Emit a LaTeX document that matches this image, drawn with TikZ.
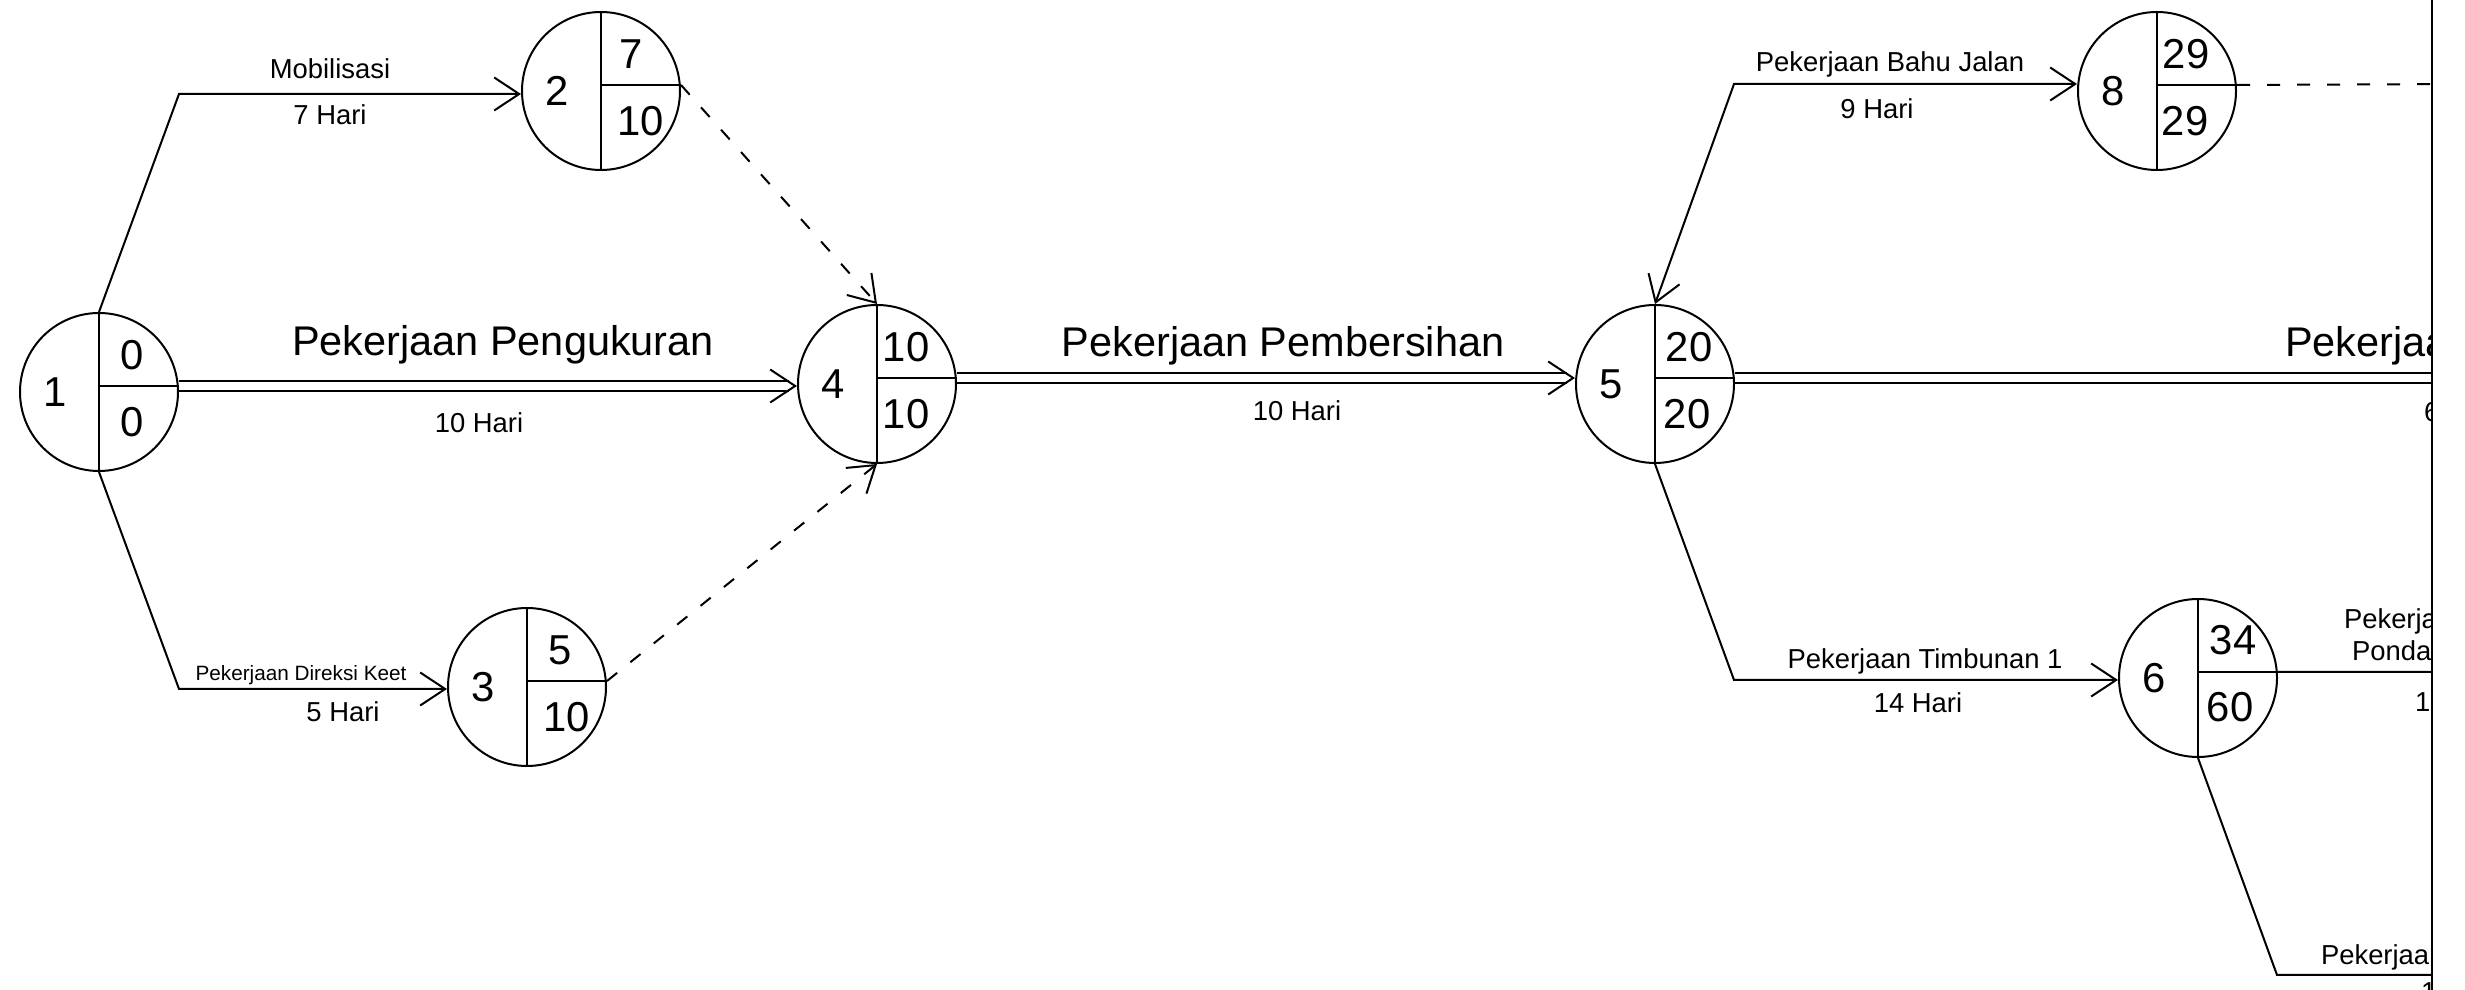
\documentclass[tikz,border=0pt]{standalone}
\usepackage{fontspec}
\setmainfont{Liberation Sans}
\usetikzlibrary{arrows.meta,positioning,calc}

\tikzset{
  event/.style={circle,draw,minimum size=15.8mm,inner sep=0pt},
  evnum/.style={font=\fontsize{11.9}{14}\selectfont,inner sep=0pt},
  biglbl/.style={font=\fontsize{11.8}{14}\selectfont,inner sep=0pt},
  lbl/.style={font=\fontsize{7.8}{9}\selectfont,inner sep=0pt},
  tinylbl/.style={font=\fontsize{5.9}{7}\selectfont,inner sep=0pt},
  arr/.style={->},
  arrboth/.style={<->},
  dline/.style={double,double distance=0.8mm},
  dashline/.style={dash pattern=on 1.3mm off 1.7mm},
}

\begin{document}
\begin{tikzpicture}[x=0.1mm,y=-0.1mm,line width=0.2mm,>={Straight Barb[length=2.5mm,width=3.3mm]}]
\useasboundingbox (0,0) rectangle (2465,990);
\begin{scope}
	\clip (0,0) rectangle (2432,990);

	% event 1
	\node[event] (n1) at (99,392) {};
	\draw (n1.north) -- (n1.south);
	\draw ([yshift=0.6mm]n1.center) -- ([yshift=0.6mm]n1.east);
	\node[evnum] (n1k) at ([xshift=-4.4mm]n1.center) {1};
	\node[evnum] (n1e) at ([xshift=3.3mm,yshift=3.7mm]n1.center) {0};
	\node[evnum] (n1l) at ([xshift=3.3mm,yshift=-3.0mm]n1.center) {0};

	% event 2
	\node[event] (n2) at (601,91) {};
	\draw (n2.north) -- (n2.south);
	\draw ([yshift=0.6mm]n2.center) -- ([yshift=0.6mm]n2.east);
	\node[evnum] (n2k) at ([xshift=-4.4mm]n2.center) {2};
	\node[evnum] (n2e) at ([xshift=3.0mm,yshift=3.7mm]n2.center) {7};
	\node[evnum] (n2l) at ([xshift=4.0mm,yshift=-3.0mm]n2.center) {10};

	% event 3
	\node[event] (n3) at (527,687) {};
	\draw (n3.north) -- (n3.south);
	\draw ([yshift=0.6mm]n3.center) -- ([yshift=0.6mm]n3.east);
	\node[evnum] (n3k) at ([xshift=-4.4mm]n3.center) {3};
	\node[evnum] (n3e) at ([xshift=3.3mm,yshift=3.7mm]n3.center) {5};
	\node[evnum] (n3l) at ([xshift=4.0mm,yshift=-3.0mm]n3.center) {10};

	% event 4
	\node[event] (n4) at (877,384) {};
	\draw (n4.north) -- (n4.south);
	\draw ([yshift=0.6mm]n4.center) -- ([yshift=0.6mm]n4.east);
	\node[evnum] (n4k) at ([xshift=-4.4mm]n4.center) {4};
	\node[evnum] (n4e) at ([xshift=2.9mm,yshift=3.7mm]n4.center) {10};
	\node[evnum] (n4l) at ([xshift=2.9mm,yshift=-3.0mm]n4.center) {10};

	% event 5
	\node[event] (n5) at (1655,384) {};
	\draw (n5.north) -- (n5.south);
	\draw ([yshift=0.6mm]n5.center) -- ([yshift=0.6mm]n5.east);
	\node[evnum] (n5k) at ([xshift=-4.4mm]n5.center) {5};
	\node[evnum] (n5e) at ([xshift=3.4mm,yshift=3.7mm]n5.center) {20};
	\node[evnum] (n5l) at ([xshift=3.2mm,yshift=-3.0mm]n5.center) {20};

	% event 8
	\node[event] (n8) at (2157,91) {};
	\draw (n8.north) -- (n8.south);
	\draw ([yshift=0.6mm]n8.center) -- ([yshift=0.6mm]n8.east);
	\node[evnum] (n8k) at ([xshift=-4.4mm]n8.center) {8};
	\node[evnum] (n8e) at ([xshift=2.9mm,yshift=3.7mm]n8.center) {29};
	\node[evnum] (n8l) at ([xshift=2.8mm,yshift=-3.0mm]n8.center) {29};

	% event 6
	\node[event] (n6) at (2198,678) {};
	\draw (n6.north) -- (n6.south);
	\draw ([yshift=0.6mm]n6.center) -- ([yshift=0.6mm]n6.east);
	\node[evnum] (n6k) at ([xshift=-4.4mm]n6.center) {6};
	\node[evnum] (n6e) at ([xshift=3.5mm,yshift=3.8mm]n6.center) {34};
	\node[evnum] (n6l) at ([xshift=3.2mm,yshift=-2.9mm]n6.center) {60};

	% 1 -> 2
	\coordinate (c12) at (179,94);
	\draw[arr] (n1.north) -- (c12) -- (n2.west |- c12);
	\node[lbl] (t12) at (330,69) {Mobilisasi};
	\node[lbl] (d12) at (330,115) {7 Hari};

	% 1 -> 3
	\coordinate (c13) at (179,689);
	\draw[arr] (n1.south) -- (c13) -- (n3.west |- c13);
	\node[tinylbl,anchor=base] (t13) at (301,681) {Pekerjaan Direksi Keet};
	\node[lbl] (d13) at (343,712) {5 Hari};

	% 1 -> 4
	\coordinate (s14) at ([yshift=0.6mm]n1.east);
	\coordinate (e14) at (s14 -| n4.west);
	\draw[dline,shorten >=0.8mm] (s14) -- (e14);
	\draw[arr] ([xshift=-0.4mm]e14) -- (e14);
	\node[biglbl,anchor=base] (t14) at (503,356) {Pekerjaan Pengukuran};
	\node[lbl] (d14) at (479,423) {10 Hari};

	% dummies into 4
	\draw[arr,dashline] ([yshift=0.6mm]n2.east) -- (n4.north);
	\draw[arr,dashline] ([yshift=0.6mm]n3.east) -- (n4.south);

	% 4 -> 5
	\coordinate (s45) at ([yshift=0.6mm]n4.east);
	\coordinate (e45) at (s45 -| n5.west);
	\draw[dline,shorten >=0.8mm] (s45) -- (e45);
	\draw[arr] ([xshift=-0.4mm]e45) -- (e45);
	\node[biglbl,anchor=base] (t45) at (1283,357) {Pekerjaan Pembersihan};
	\node[lbl] (d45) at (1297,411) {10 Hari};

	% 5 -> 8
	\coordinate (c58) at (1734,84);
	\draw[arrboth] (n5.north) -- (c58) -- (n8.west |- c58);
	\node[lbl,anchor=base] (t58) at (1890,72) {Pekerjaan Bahu Jalan};
	\node[lbl] (d58) at (1877,109) {9 Hari};

	% 5 -> 6
	\coordinate (c56) at (1734,680);
	\draw[arr] (n5.south) -- (c56) -- (n6.west |- c56);
	\node[lbl,anchor=base] (t56) at (1925,669) {Pekerjaan Timbunan 1};
	\node[lbl] (d56) at (1918,703) {14 Hari};

	% leaving the frame
	\coordinate (s5r) at ([yshift=0.6mm]n5.east);
	\coordinate (e5r) at (2460,377);
	\draw[dline] (s5r) -- (s5r -| e5r);
	\node[biglbl,anchor=base west] (t5r) at (2284,357) {Pekerjaa};
	\node[lbl,anchor=base west] (d5r) at (2423,422) {6};

	\coordinate (e8r) at (2460,84);
	\draw[dashline] ([yshift=0.6mm]n8.east) -- (e8r);

	\coordinate (e6r) at (2460,672);
	\draw ([yshift=0.6mm]n6.east) -- (e6r);
	\node[lbl,anchor=base west] (t6ra) at (2343,629) {Pekerja};
	\node[lbl,anchor=base west] (t6rb) at (2351,661) {Ponda};
	\node[lbl,anchor=base west] (d6r) at (2414,712) {1};

	\coordinate (c6b) at (2277,975);
	\coordinate (e6b) at (2460,975);
	\draw (n6.south) -- (c6b) -- (e6b);
	\node[lbl,anchor=base west] (t6b) at (2320,965) {Pekerjaa};
	\node[lbl,anchor=base west] (d6b) at (2420,1002) {1};
\end{scope}
% frame edge
\draw (2432,0) -- (2432,990);
\end{tikzpicture}
\end{document}
